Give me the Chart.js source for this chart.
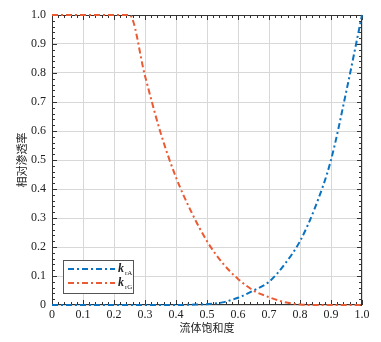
<!DOCTYPE html>
<html>
<head>
<meta charset="utf-8">
<script src="https://cdn.jsdelivr.net/npm/chart.js@4"></script>
<style>
  html, body { margin: 0; padding: 0; background: #fff; }
  #wrap { width: 381px; height: 342px; }
</style>
</head>
<body>
<div id="wrap"><canvas id="kr"></canvas></div>
<script>
// 流体饱和度
var saturation = [0, 0.05, 0.1, 0.15, 0.2, 0.25, 0.3, 0.35, 0.4, 0.45, 0.5, 0.55, 0.6, 0.65, 0.7, 0.75, 0.8, 0.85, 0.9, 0.95, 1.0];
// 相对渗透率
var krA = [0, 0, 0, 0, 0, 0, 0, 0, 0, 0.001, 0.003, 0.009, 0.025, 0.05, 0.08, 0.14, 0.22, 0.34, 0.5, 0.74, 1.0];
var krG = [1, 1, 1, 1, 1, 1, 0.79, 0.595, 0.44, 0.32, 0.22, 0.145, 0.09, 0.05, 0.027, 0.01, 0.002, 0, 0, 0, 0];
var seriesLabels = ['rA', 'rG'];
var tickValues = [0, 0.1, 0.2, 0.3, 0.4, 0.5, 0.6, 0.7, 0.8, 0.9, 1.0];

var blue = '#0a72c0';
var orange = '#ea5b33';
var dashDot = [6, 3, 2, 3];
var serif = '"Liberation Serif", "DejaVu Serif", serif';

function toPoints(ys) {
    return saturation.map(function(x, i) { return { x: x, y: ys[i] }; });
}
function fmt(v) {
    return v === 0 ? '0' : v.toFixed(1);
}

// 边框和内向刻度（画在曲线下面）
var framePlugin = {
    id: 'frame',
    beforeDatasetsDraw: function(chart) {
        var ctx = chart.ctx;
        var ca = chart.chartArea;
        var xs = chart.scales.x, ys = chart.scales.y;
        ctx.save();
        ctx.strokeStyle = '#333';
        ctx.lineWidth = 1;
        ctx.strokeRect(ca.left + 0.5, ca.top + 0.5, ca.right - ca.left - 1, ca.bottom - ca.top - 1);
        ctx.beginPath();
        for (var i = 0; i <= 50; i++) {
            var v = i / 50;
            var len = (i % 5 === 0) ? 5 : 3;
            var px = Math.round(xs.getPixelForValue(v)) + 0.5;
            var py = Math.round(ys.getPixelForValue(v)) + 0.5;
            ctx.moveTo(px, ca.bottom); ctx.lineTo(px, ca.bottom - len);
            ctx.moveTo(px, ca.top); ctx.lineTo(px, ca.top + len);
            ctx.moveTo(ca.left, py); ctx.lineTo(ca.left + len, py);
            ctx.moveTo(ca.right, py); ctx.lineTo(ca.right - len, py);
        }
        ctx.stroke();
        ctx.restore();
    },
    // 图例
    afterDatasetsDraw: function(chart) {
        var ctx = chart.ctx;
        var ca = chart.chartArea;
        ctx.save();
        var bx = ca.left + 11, by = ca.bottom - 45, bw = 70, bh = 33;
        ctx.fillStyle = '#fff';
        ctx.fillRect(bx, by, bw, bh);
        ctx.strokeStyle = '#555';
        ctx.lineWidth = 1;
        ctx.strokeRect(bx + 0.5, by + 0.5, bw, bh);
        chart.data.datasets.forEach(function(ds, k) {
            var ly = by + 9 + k * 14;
            ctx.strokeStyle = ds.borderColor;
            ctx.lineWidth = 2;
            ctx.setLineDash(dashDot);
            ctx.beginPath();
            ctx.moveTo(bx + 5, ly);
            ctx.lineTo(bx + 52, ly);
            ctx.stroke();
            ctx.setLineDash([]);
            ctx.fillStyle = '#222';
            ctx.textBaseline = 'alphabetic';
            ctx.textAlign = 'left';
            ctx.font = 'italic bold 12px ' + serif;
            ctx.fillText('k', bx + 55, ly + 3);
            ctx.font = '7px ' + serif;
            ctx.fillText(seriesLabels[k], bx + 62, ly + 6);
        });
        ctx.restore();
    }
};

var ctx = document.getElementById('kr').getContext('2d');
var chart = new Chart(ctx, {
    type: 'line',
    data: {
        datasets: [{
            label: 'krA',
            data: toPoints(krA),
            borderColor: blue,
            borderWidth: 2,
            borderDash: dashDot,
            pointRadius: 0,
            fill: false,
            clip: 6,
            cubicInterpolationMode: 'monotone'
        }, {
            label: 'krG',
            data: toPoints(krG),
            borderColor: orange,
            borderWidth: 2,
            borderDash: dashDot,
            pointRadius: 0,
            fill: false,
            clip: 6,
            cubicInterpolationMode: 'monotone'
        }]
    },
    options: {
        responsive: true,
        maintainAspectRatio: false,
        animation: false,
        layout: { padding: { top: 15, right: 19, left: 0, bottom: 0 } },
        plugins: {
            legend: { display: false },
            tooltip: { enabled: false }
        },
        scales: {
            x: {
                type: 'linear',
                min: 0,
                max: 1,
                afterBuildTicks: function(s) { s.ticks = tickValues.map(function(v) { return { value: v }; }); },
                afterFit: function(s) { s.height = 37; },
                ticks: {
                    maxRotation: 0,
                    autoSkip: false,
                    padding: 3,
                    color: '#222',
                    font: { family: serif, size: 12 },
                    callback: function(v) { return fmt(v); }
                },
                grid: { color: '#d8d8d8', drawTicks: false },
                border: { display: false },
                title: {
                    display: true,
                    text: '流体饱和度',
                    color: '#222',
                    font: { family: '"Noto Sans CJK SC"', size: 11 },
                    padding: { top: 0, bottom: 8 }
                }
            },
            y: {
                min: 0,
                max: 1,
                afterBuildTicks: function(s) { s.ticks = tickValues.map(function(v) { return { value: v }; }); },
                afterFit: function(s) { s.width = 52; },
                ticks: {
                    autoSkip: false,
                    padding: 6,
                    color: '#222',
                    font: { family: serif, size: 12 },
                    callback: function(v) { return fmt(v); }
                },
                grid: { color: '#d8d8d8', drawTicks: false },
                border: { display: false },
                title: {
                    display: true,
                    text: '相对渗透率',
                    color: '#222',
                    font: { family: '"Noto Sans CJK SC"', size: 11 },
                    padding: { top: 15, bottom: 0 }
                }
            }
        }
    },
    plugins: [framePlugin]
});
</script>
</body>
</html>
